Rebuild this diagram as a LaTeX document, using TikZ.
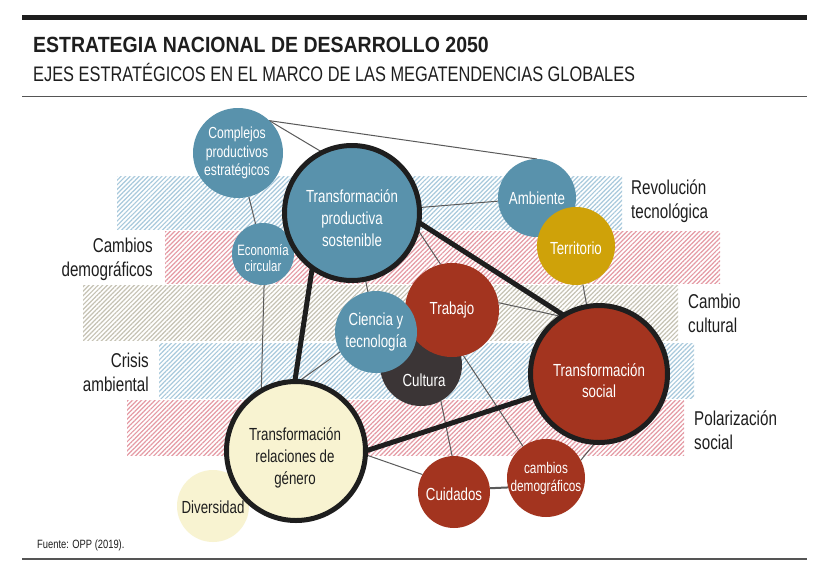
\documentclass[tikz,border=0pt]{standalone}
\usepackage{fontspec}
\setmainfont{Liberation Sans}[FakeStretch=0.76]
\newfontfamily\titlefont{Liberation Sans}[FakeStretch=0.886]
\newfontfamily\subfont{Liberation Sans}[FakeStretch=0.78]
\usetikzlibrary{patterns.meta}
\definecolor{ink}{HTML}{1E1E1E}
\definecolor{blueC}{HTML}{5992AC}
\definecolor{redC}{HTML}{A3341F}
\definecolor{goldC}{HTML}{CFA209}
\definecolor{darkC}{HTML}{3B3536}
\definecolor{creamC}{HTML}{F8F3D1}
\definecolor{hblue}{HTML}{A8C9DC}
\definecolor{hpink}{HTML}{E59AA4}
\definecolor{hgray}{HTML}{C5C2B3}
\definecolor{lgray}{HTML}{5A5A5A}
\definecolor{rule}{HTML}{555555}
\pgfdeclarelayer{bandlayer}
\pgfdeclarelayer{edgelayer}
\pgfsetlayers{bandlayer,edgelayer,main}
\tikzset{
  circ/.style={circle, inner sep=0pt, outer sep=0pt, fill=#1},
  ring/.style={draw=ink, line width=5pt},
  ctext/.style={align=center, text=white, inner sep=0pt, font=\fontsize{17.5}{21}\selectfont},
  dtext/.style={ctext, text=ink},
  hatchband/.style={pattern={Lines[angle=45,distance=3.2pt,line width=1.2pt]}, pattern color=#1},
  bandlabel/.style={inner sep=0pt, text=ink, font=\fontsize{20}{24}\selectfont},
  thinline/.style={draw=lgray, line width=1pt},
  thickline/.style={draw=ink, line width=5pt},
}
\begin{document}
\begin{tikzpicture}[x=1pt,y=-1pt]
\useasboundingbox (0,0) rectangle (833,587);

% bands (with the white page below them)
\begin{pgfonlayer}{bandlayer}
\fill[white] (0,0) rectangle (833,587);
\fill[hatchband=hblue] (117,176) rectangle (622,229);
\fill[hatchband=hpink] (165,231) rectangle (720,283);
\fill[hatchband=hgray] (83,285) rectangle (678,340);
\fill[hatchband=hblue] (159,343) rectangle (694,398);
\fill[hatchband=hpink] (127,400) rectangle (684,455);
\end{pgfonlayer}

% header
\fill[ink] (22,15) rectangle (807,19.5);
\node[anchor=base west, inner sep=0pt, text=ink, font=\titlefont\bfseries\fontsize{22}{26}\selectfont] (title) at (33,52.5) {ESTRATEGIA NACIONAL DE DESARROLLO 2050};
\node[anchor=base west, inner sep=0pt, text=ink, font=\subfont\fontsize{21}{26}\selectfont] (subtitle) at (33,81.7) {EJES ESTRATÉGICOS EN EL MARCO DE LAS MEGATENDENCIAS GLOBALES};
\draw[rule, line width=1.5pt] (22,96.5) -- (807,96.5);
\draw[rule, line width=1.5pt] (22,559) -- (807,559);
\node[anchor=base west, inner sep=0pt, text=ink, font=\subfont\fontsize{12}{14}\selectfont] (source) at (37,548) {Fuente: OPP (2019).};

% band labels (anchored at the baseline of the last line)
\node[bandlabel, anchor=base west, align=left] (revt) at (631,218) {Revolución\\tecnológica};
\node[bandlabel, anchor=base east, align=right] (cdem) at (153,276) {Cambios\\demográficos};
\node[bandlabel, anchor=base west, align=left] (ccul) at (688,332) {Cambio\\cultural};
\node[bandlabel, anchor=base east, align=right] (camb) at (149,391) {Crisis\\ambiental};
\node[bandlabel, anchor=base west, align=left] (pols) at (694,449) {Polarización\\social};

% circles
\node[circ=blueC, minimum size=90pt] (cpe) at (238,153) {};
\node[ctext, font=\fontsize{16}{18.5}\selectfont] (cpet) at (237,153) {Complejos\\productivos\\estratégicos};
\node[circ=blueC, minimum size=62pt] (eco) at (263,254) {};
\node[ctext, font=\fontsize{15}{16.5}\selectfont] (ecot) at (263,258) {Economía\\circular};
\node[circ=blueC, ring, minimum size=135pt] (tps) at (352,213) {};
\node[ctext, font=\fontsize{17.5}{22}\selectfont] (tpst) at (352,218) {Transformación\\productiva\\sostenible};
\node[circ=blueC, minimum size=78pt] (amb) at (537,198) {};
\node[ctext] (ambt) at (537,198) {Ambiente};
\node[circ=goldC, minimum size=78pt] (ter) at (576,246) {};
\node[ctext] (tert) at (576,248) {Territorio};
\node[circ=darkC, minimum size=82pt] (cul) at (421,365) {};
\node[ctext] (cult) at (424,380) {Cultura};
\node[circ=redC, minimum size=94pt] (tra) at (452,310) {};
\node[ctext] (trat) at (452,310) {Trabajo};
\node[circ=blueC, minimum size=82pt] (cie) at (376,332) {};
\node[ctext, font=\fontsize{17.5}{22}\selectfont] (ciet) at (376,332) {Ciencia y\\tecnología};
\node[circ=redC, ring, minimum size=137pt] (ts) at (599,374) {};
\node[ctext] (tst) at (599,381) {Transformación\\social};
\node[circ=creamC, minimum size=72pt] (div) at (213,506) {};
\node[dtext] (divt) at (213,507) {Diversidad};
\node[circ=creamC, ring, minimum size=139pt] (trg) at (296,451) {};
\node[dtext, font=\fontsize{17.5}{22}\selectfont] (trgt) at (295,458) {Transformación\\relaciones de\\género};
\node[circ=redC, minimum size=72pt] (cui) at (454,492) {};
\node[ctext] (cuit) at (454,494) {Cuidados};
\node[circ=redC, minimum size=78pt] (cde) at (546,478) {};
\node[ctext, font=\fontsize{15.5}{18}\selectfont] (cdet) at (546,478) {cambios\\demográficos};

% connectors
\begin{pgfonlayer}{edgelayer}
\draw[thinline] (cpe.46) -- (amb.90);
\draw[thinline] (cpe.46) -- (tps.116);
\draw[thinline] (cpe) -- (eco);
\draw[thinline] (tps) -- (amb);
\draw[thinline] (eco.272) -- (trg.120);
\draw[thinline] (tps) -- (cie);
\draw[thinline] (tps.-14) -- (tra.104);
\draw[thinline] (ter) -- (ts);
\draw[thinline] (tra.9) -- (ts.123);
\draw[thinline] (cie.209) -- (trg.88);
\draw[thinline] (tra.-76) -- (cde.126);
\draw[thinline] (cul.-61) -- (cui.93);
\draw[thinline] (trg.-3) -- (cui.151);
\draw[thinline, line width=2pt] (cui.6) -- (cde.194);
\draw[thinline] (cde.27) -- (ts.267);
\draw[thickline] (tps.-8) -- (ts.121);
\draw[thickline] (tps.234) -- (trg.91);
\draw[thickline] (trg.0) -- (ts.199);
\end{pgfonlayer}
\end{tikzpicture}
\end{document}
